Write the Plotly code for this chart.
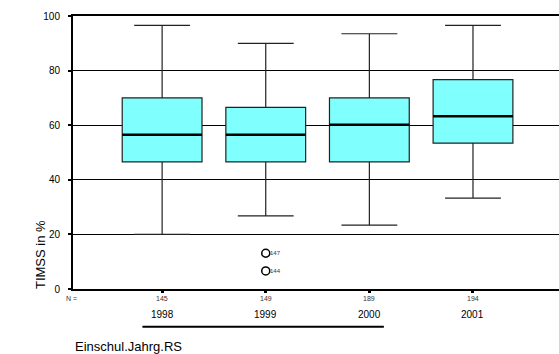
import plotly.graph_objects as go

years = ["1998", "1999", "2000", "2001"]
n_counts = ["145", "149", "189", "194"]
q1 = [46.6, 46.6, 46.6, 53.4]
median = [56.5, 56.5, 60.2, 63.3]
q3 = [70.0, 66.5, 70.0, 76.7]
lowerfence = [20.0, 26.8, 23.4, 33.3]
upperfence = [96.6, 90.0, 93.5, 96.6]
outlier_x = ["1999", "1999"]
outlier_y = [13.1, 6.6]
outlier_ids = ["147", "144"]
yticks = [0, 20, 40, 60, 80, 100]

FONT = "Liberation Sans, Arial, sans-serif"
BOX_W = 0.77

fig = go.Figure()
fig.add_trace(go.Box(
    x=years, q1=q1, median=median, q3=q3,
    lowerfence=lowerfence, upperfence=upperfence,
    boxpoints=False, fillcolor="#80FFFF",
    line=dict(color="#222222", width=1.2),
    whiskerwidth=0.7, showlegend=False, hoverinfo="skip",
))
fig.add_trace(go.Scatter(
    x=outlier_x, y=outlier_y, mode="markers",
    marker=dict(symbol="circle-open", size=8, color="black", line=dict(width=1.5)),
    showlegend=False, hoverinfo="skip",
))

shapes = []
for i, m in enumerate(median):
    shapes.append(dict(type="line", xref="x", yref="y",
                       x0=i - BOX_W / 2, x1=i + BOX_W / 2, y0=m, y1=m,
                       line=dict(color="black", width=2.5)))
# decorative underline under the category labels
shapes.append(dict(type="line", xref="x", yref="paper", x0=-0.19, x1=2.14,
                   y0=-0.138, y1=-0.138, line=dict(color="black", width=2)))

annotations = []
for xo, yo, lab in zip(outlier_x, outlier_y, outlier_ids):
    annotations.append(dict(x=years.index(xo), y=yo, xref="x", yref="y", text=lab,
                            showarrow=False, xanchor="left", yanchor="middle", xshift=2,
                            font=dict(family=FONT, size=6, color="#333333")))
for i, n in enumerate(n_counts):
    annotations.append(dict(x=i, y=-0.033, xref="x", yref="paper", text=n,
                            showarrow=False, font=dict(family=FONT, size=7, color="#333"),
                            xanchor="center", yanchor="middle"))
    annotations.append(dict(x=i, y=-0.0916, xref="x", yref="paper", text=years[i],
                            showarrow=False, font=dict(family=FONT, size=10, color="black"),
                            xanchor="center", yanchor="middle"))
annotations.append(dict(x=-0.004, y=-0.033, xref="paper", yref="paper", text="N =",
                        showarrow=False, font=dict(family=FONT, size=7, color="#333"),
                        xanchor="center", yanchor="middle"))
annotations.append(dict(x=-0.0679, y=0.1245, xref="paper", yref="paper", text="TIMSS in %",
                        textangle=-90, showarrow=False,
                        font=dict(family=FONT, size=13, color="black"),
                        xanchor="center", yanchor="middle"))
annotations.append(dict(x=0, y=-0.209, xref="paper", yref="paper", text="Einschul.Jahrg.RS",
                        showarrow=False, font=dict(family=FONT, size=13, color="black"),
                        xanchor="left", yanchor="middle"))

fig.update_layout(
    width=559, height=354,
    margin=dict(l=73, r=0, t=16, b=65),
    paper_bgcolor="white", plot_bgcolor="white",
    boxgap=1 - BOX_W, boxgroupgap=0,
    shapes=shapes, annotations=annotations,
    font=dict(family=FONT, color="black"),
)
fig.update_xaxes(
    type="category", range=[-0.86, 3.83],
    showticklabels=False, ticks="outside", ticklen=2, tickwidth=3, tickcolor="black",
    showline=True, linecolor="black", linewidth=2, mirror=True,
    showgrid=False, zeroline=False,
)
fig.update_yaxes(
    range=[0, 100], tickvals=yticks, ticktext=[str(v) for v in yticks],
    ticks="outside", ticklen=3, tickwidth=2, tickcolor="black",
    tickfont=dict(family=FONT, size=10, color="black"),
    ticklabelstandoff=6,
    showline=True, linecolor="black", linewidth=2, mirror=False,
    showgrid=True, gridcolor="black", gridwidth=1, zeroline=False,
)

fig.write_html("out.html", config={"displayModeBar": False},
               post_script="document.body.style.margin='0';document.body.style.overflow='hidden';")
